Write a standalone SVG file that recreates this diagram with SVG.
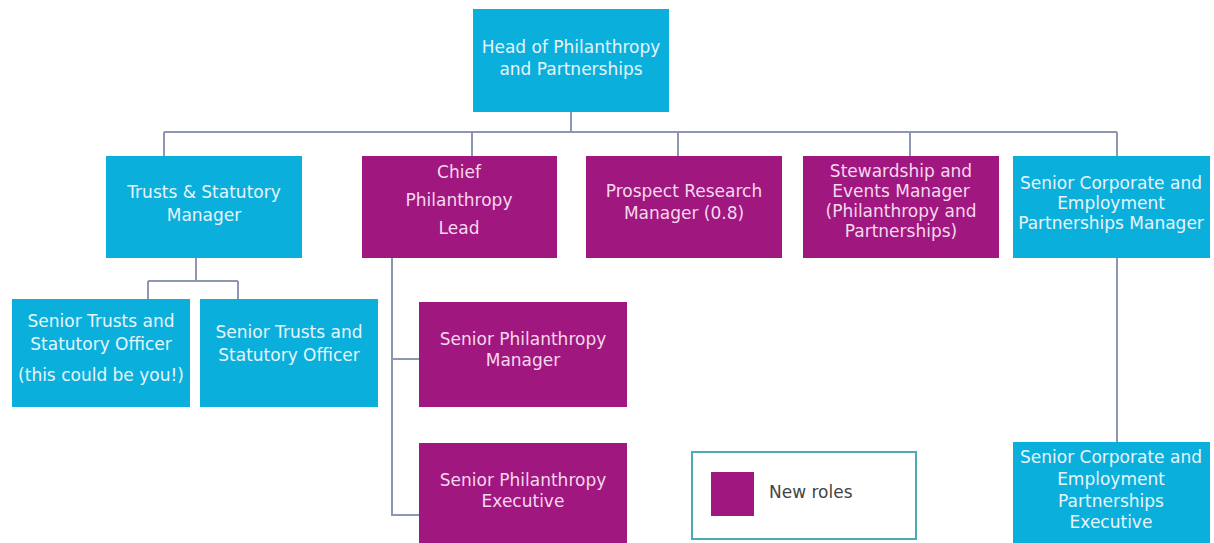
<svg xmlns="http://www.w3.org/2000/svg" width="1214" height="543" viewBox="0 0 1214 543">
<style>
.c{fill:#0aafdc}
.m{fill:#a0177f}
text{font-family:"DejaVu Sans","Liberation Sans",sans-serif;font-size:17px;text-anchor:middle}
.tc{fill:#e6f5fb}
.tm{fill:#f6d8ee}
.ln{fill:none;stroke:#8d97b3;stroke-width:2}
</style>
<rect width="1214" height="543" fill="#fff"/>
<g id="connectors" class="ln">
<path d="M571 112V132M164 132H1117M164 132V156M472 132V156M678 132V156M910 132V156M1117 132V156"/>
<path d="M196 258V281M148 281H238M148 281V299M238 281V299"/>
<path d="M392 258V515H419M392 359H419"/>
<path d="M1117 258V442"/>
</g>
<g id="head"><rect class="c" x="473" y="9" width="196" height="103"/>
<text class="tc"><tspan x="571" y="53">Head of Philanthropy</tspan><tspan x="571" y="75">and Partnerships</tspan></text></g>
<g id="trusts"><rect class="c" x="106" y="156" width="196" height="102"/>
<text class="tc"><tspan x="204" y="198">Trusts &amp; Statutory</tspan><tspan x="204" y="221">Manager</tspan></text></g>
<g id="chief"><rect class="m" x="362" y="156" width="195" height="102"/>
<text class="tm"><tspan x="459" y="178">Chief</tspan><tspan x="459" y="206">Philanthropy</tspan><tspan x="459" y="234">Lead</tspan></text></g>
<g id="prospect"><rect class="m" x="586" y="156" width="196" height="102"/>
<text class="tm"><tspan x="684" y="197">Prospect Research</tspan><tspan x="684" y="219">Manager (0.8)</tspan></text></g>
<g id="stewardship"><rect class="m" x="803" y="156" width="196" height="102"/>
<text class="tm"><tspan x="901" y="177">Stewardship and</tspan><tspan x="901" y="197">Events Manager</tspan><tspan x="901" y="217">(Philanthropy and</tspan><tspan x="901" y="237">Partnerships)</tspan></text></g>
<g id="corp-manager"><rect class="c" x="1013" y="156" width="197" height="102"/>
<text class="tc"><tspan x="1111" y="189">Senior Corporate and</tspan><tspan x="1111" y="209">Employment</tspan><tspan x="1111" y="229">Partnerships Manager</tspan></text></g>
<g id="sto-1"><rect class="c" x="12" y="299" width="178" height="108"/>
<text class="tc"><tspan x="101" y="327">Senior Trusts and</tspan><tspan x="101" y="350">Statutory Officer</tspan><tspan x="101" y="381">(this could be you!)</tspan></text></g>
<g id="sto-2"><rect class="c" x="200" y="299" width="178" height="108"/>
<text class="tc"><tspan x="289" y="338">Senior Trusts and</tspan><tspan x="289" y="361">Statutory Officer</tspan></text></g>
<g id="spm"><rect class="m" x="419" y="302" width="208" height="105"/>
<text class="tm"><tspan x="523" y="345">Senior Philanthropy</tspan><tspan x="523" y="366">Manager</tspan></text></g>
<g id="spe"><rect class="m" x="419" y="443" width="208" height="105"/>
<text class="tm"><tspan x="523" y="486">Senior Philanthropy</tspan><tspan x="523" y="507">Executive</tspan></text></g>
<g id="corp-exec"><rect class="c" x="1013" y="442" width="197" height="106"/>
<text class="tc"><tspan x="1111" y="463">Senior Corporate and</tspan><tspan x="1111" y="485">Employment</tspan><tspan x="1111" y="507">Partnerships</tspan><tspan x="1111" y="528">Executive</tspan></text></g>
<g id="legend"><rect x="692" y="452" width="224" height="87" fill="#fff" stroke="#4fa9b3" stroke-width="2"/>
<rect class="m" x="711" y="472" width="43" height="44"/>
<text x="769" y="498" style="text-anchor:start;fill:#444">New roles</text></g>
</svg>
